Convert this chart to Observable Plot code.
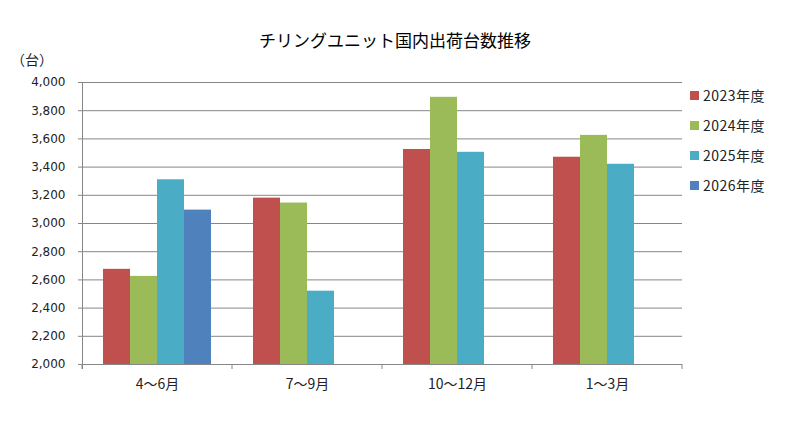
<!DOCTYPE html>
<html>
<head>
<meta charset="utf-8">
<script src="https://cdn.jsdelivr.net/npm/d3@7"></script>
<script src="https://cdn.jsdelivr.net/npm/@observablehq/plot@0.6"></script>
<style>
  html, body { margin: 0; padding: 0; background: #fff; }
  #wrap { position: relative; width: 787px; height: 423px; overflow: hidden; background: #fff; }
  #title { position: absolute; left: 0; width: 790px; top: 28px; text-align: center;
           font-family: "Noto Sans CJK JP", sans-serif; font-size: 17px; color: #000; line-height: 24px; }
  #unit { position: absolute; left: 11px; top: 50px; font-family: "Noto Sans CJK JP", sans-serif;
          font-size: 14px; color: #222; line-height: 18px; }
  #legend { position: absolute; left: 690px; top: 90px; font-family: "Noto Sans CJK JP", sans-serif;
            font-size: 14px; color: #222; }
  .li { display: flex; align-items: center; height: 30px; line-height: 20px; margin-top: -10px; margin-bottom: 10px; }
  .sw { width: 9px; height: 9px; margin-right: 4px; flex: none; }
  .nm { letter-spacing: 0.5px; }
  #chart { position: absolute; left: 0; top: 0; }
</style>
</head>
<body>
<div id="wrap">
  <div id="chart"></div>
  <div id="title"></div>
  <div id="unit"></div>
  <div id="legend"></div>
</div>
<script>
const titleText = "チリングユニット国内出荷台数推移";
const unitText = "（台）";
const quarters = ["4～6月", "7～9月", "10～12月", "1～3月"];
const years = ["2023年度", "2024年度", "2025年度", "2026年度"];
const v2023 = [2675, 3180, 3525, 3470];
const v2024 = [2625, 3145, 3895, 3625];
const v2025 = [3310, 2520, 3505, 3420];
const v2026 = [3095, null, null, null];
const yTicks = [2000, 2200, 2400, 2600, 2800, 3000, 3200, 3400, 3600, 3800, 4000];
const colors = ["#C0504D", "#9BBB59", "#4BACC6", "#4F81BD"];
const gridColor = "#868686";

const series = [v2023, v2024, v2025, v2026];
const data = [];
quarters.forEach((q, i) => {
  years.forEach((yr, j) => {
    const v = series[j][i];
    if (v != null) data.push({quarter: q, year: yr, value: v});
  });
});

const yMin = yTicks[0];
const yMax = yTicks[yTicks.length - 1];
const fmt = d3.format(",");

const plot = Plot.plot({
  width: 787,
  height: 423,
  marginLeft: 80,
  marginRight: 104,
  marginTop: 82,
  marginBottom: 59,
  style: {fontFamily: "'DejaVu Sans', sans-serif", background: "transparent", overflow: "visible"},
  fx: {domain: quarters, padding: 0, axis: null, label: null},
  x: {domain: years, paddingInner: 0, paddingOuter: 0.75, axis: null},
  y: {domain: [yMin, yMax], axis: null, label: null},
  color: {domain: years, range: colors},
  marks: [
    Plot.ruleY(yTicks, {stroke: gridColor, strokeWidth: 1}),
    Plot.barY(data, {fx: "quarter", x: "year", y1: () => yMin, y2: "value", fill: "year", inset: 0}),
    Plot.axisY({ticks: yTicks, tickFormat: fmt, tickSize: 4, tickPadding: 13, stroke: gridColor,
                fill: "#222", fontSize: 12}),
    Plot.axisFx({anchor: "bottom", tickSize: 0, tickPadding: 15, fontSize: 14, fill: "#222",
                 fontFamily: "'Noto Sans CJK JP', sans-serif", label: null})
  ]
});

document.getElementById("chart").appendChild(plot);

// y axis line and category boundary ticks, positioned from Plot's own scales
const fx = plot.scale("fx");
const ys = plot.scale("y");
const svg = d3.select(plot);
const y0 = ys.apply(yMin), y1 = ys.apply(yMax);
const x0 = fx.apply(quarters[0]);
svg.append("line").attr("x1", x0).attr("x2", x0).attr("y1", y1).attr("y2", y0 + 5)
  .attr("stroke", gridColor).attr("shape-rendering", "crispEdges");
const bounds = quarters.map(q => fx.apply(q)).concat([fx.apply(quarters[quarters.length - 1]) + fx.bandwidth]);
bounds.forEach(b => {
  svg.append("line").attr("x1", b).attr("x2", b).attr("y1", y0).attr("y2", y0 + 5)
    .attr("stroke", gridColor);
});

document.getElementById("title").textContent = titleText;
document.getElementById("unit").textContent = unitText;
const legend = document.getElementById("legend");
years.forEach((yr, i) => {
  const row = document.createElement("div");
  row.className = "li";
  const sw = document.createElement("span");
  sw.className = "sw";
  sw.style.background = colors[i];
  const t = document.createElement("span");
  t.className = "nm";
  t.textContent = yr;
  row.appendChild(sw);
  row.appendChild(t);
  legend.appendChild(row);
});
</script>
</body>
</html>
